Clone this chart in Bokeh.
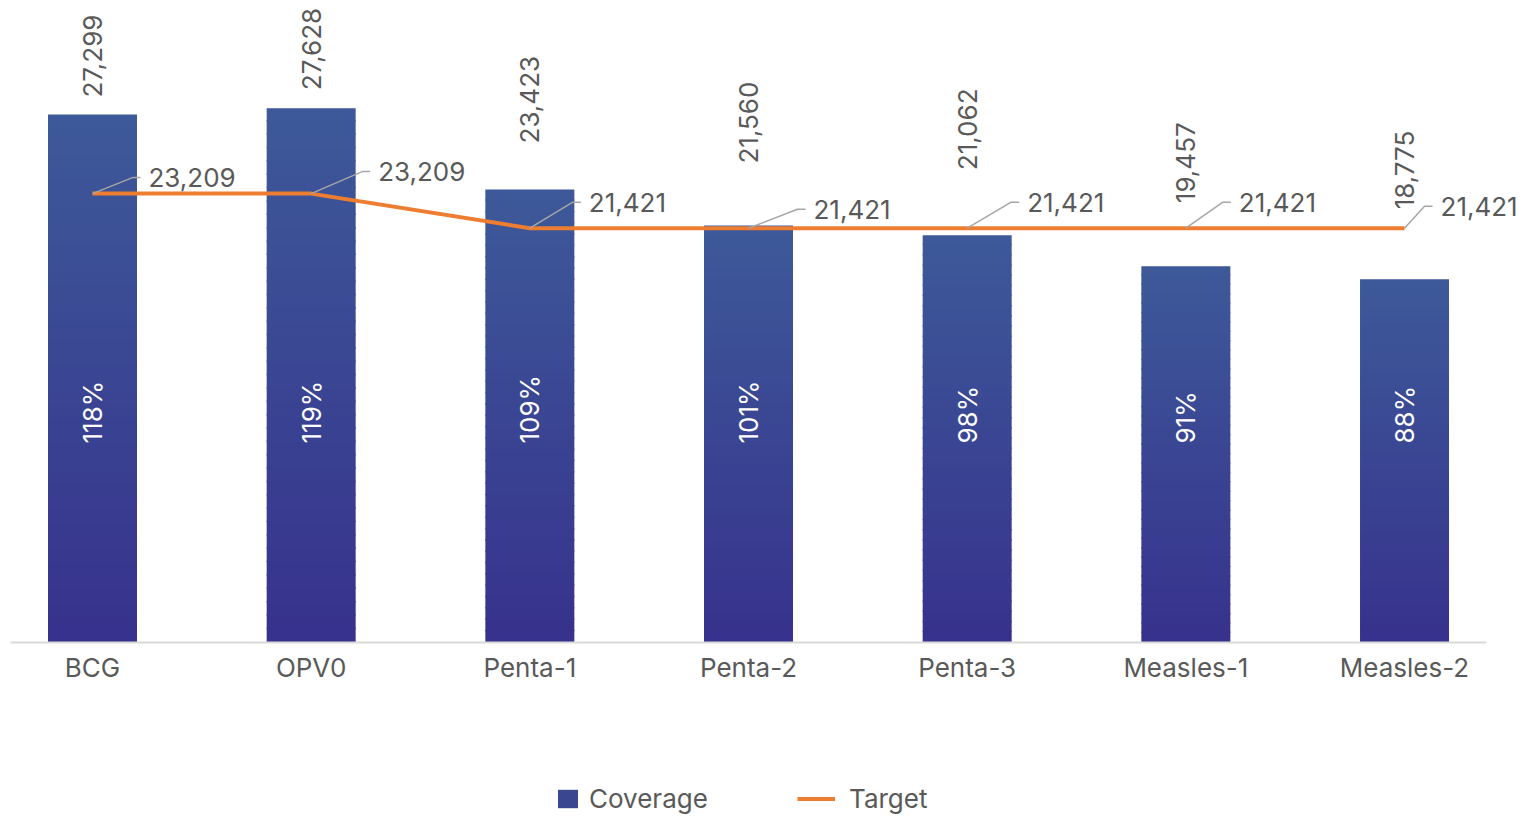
import numpy as np
from bokeh.plotting import figure
from bokeh.models import FixedTicker, Range1d, Legend, LegendItem
from bokeh.core.properties import value
from bokeh.embed import file_html
from bokeh.resources import INLINE

# ---- data ----
categories = ["BCG", "OPV0", "Penta-1", "Penta-2", "Penta-3", "Measles-1", "Measles-2"]
coverage = [27299, 27628, 23423, 21560, 21062, 19457, 18775]
target = [23209, 23209, 21421, 21421, 21421, 21421, 21421]
coverage_pct = ["118%", "119%", "109%", "101%", "98%", "91%", "88%"]

# ---- layout (pixels) ----
FONT = "Inter"
TXT = "#595959"
STEP = 218.67            # px per category
YSCALE = 0.019341        # px per unit
FRAME_W, FRAME_H = 1520, 816
BASE_PX = 642            # baseline position from top
X0 = -92 / STEP
X1 = X0 + FRAME_W / STEP
XPP = 1 / STEP
YPP = 1 / YSCALE
Y0 = -(FRAME_H - BASE_PX) * YPP
Y1 = BASE_PX * YPP
top_label_gap_px = [17, 18, 46, 62, 65, 63, 70]
tgt_dx_px = [56, 67, 59, 65, 60, 53, 36]
tgt_dy_px = [16, 22, 26, 19, 26, 26, 22]  # upward
pct_y_px = 199

x = np.arange(len(categories))

p = figure(frame_width=FRAME_W, frame_height=FRAME_H, output_backend="svg",
           toolbar_location=None, x_range=Range1d(X0, X1), y_range=Range1d(Y0, Y1),
           min_border=0)
p.outline_line_color = None
p.background_fill_color = "white"
p.border_fill_color = "white"
p.grid.visible = False
p.yaxis.visible = False

# gradient bars: slices of each bar
N = 40
top_c = np.array([0x3D, 0x5A, 0x99])
bot_c = np.array([0x37, 0x31, 0x8D])
xs, b0, b1, cols = [], [], [], []
for i, v in enumerate(coverage):
    for k in range(N):
        f0, f1 = k / N, (k + 1) / N
        c = bot_c + (top_c - bot_c) * ((f0 + f1) / 2)
        xs.append(x[i]); b0.append(v * f0); b1.append(min(v, v * f1 + 1.5 * YPP))
        cols.append("#%02x%02x%02x" % tuple(int(round(t)) for t in c))
p.vbar(x=xs, bottom=b0, top=b1, width=0.407, fill_color=cols, line_color=None)

# baseline
p.segment(x0=[-0.375], y0=[0], x1=[len(categories) - 1 + 0.375], y1=[0],
          line_color="#d9d9d9", line_width=2)

# target line
line_r = p.line(x=x, y=target, line_color="#ED7D31", line_width=4)

# leader lines + target labels
lx, ly, tx, ty = [], [], [], []
for i in range(len(categories)):
    txx = x[i] + tgt_dx_px[i] * XPP
    tyy = target[i] + tgt_dy_px[i] * YPP
    lx.append([x[i], txx - 16 * XPP, txx - 8 * XPP])
    ly.append([target[i], tyy, tyy])
    tx.append(txx); ty.append(tyy)
p.multi_line(xs=lx, ys=ly, line_color="#a6a6a6", line_width=1.5)
p.text(x=tx, y=ty, text=[f"{t:,}" for t in target], text_font=value(FONT), text_font_size="26px",
       text_color=TXT, text_align="left", text_baseline="middle")

# value labels above bars (rotated)
vy = [c + g * YPP for c, g in zip(coverage, top_label_gap_px)]
p.text(x=x, y=vy, text=[f"{c:,}" for c in coverage], angle=np.pi / 2, text_font=value(FONT),
       text_font_size="26px", text_color=TXT, text_align="left", text_baseline="middle")

# percent labels inside bars
p.text(x=x, y=[pct_y_px * YPP] * len(x), text=coverage_pct, angle=np.pi / 2, text_font=value(FONT),
       text_font_size="26px", text_color="white", text_align="left", text_baseline="middle")

# x axis at the baseline
p.xaxis.fixed_location = 0
p.xaxis.ticker = FixedTicker(ticks=list(x))
p.xaxis.major_label_overrides = {int(i): c for i, c in zip(x, categories)}
p.xaxis.axis_line_color = None
p.xaxis.major_tick_line_color = None
p.xaxis.minor_tick_line_color = None
p.xaxis.major_label_text_font = FONT
p.xaxis.major_label_text_font_size = "26px"
p.xaxis.major_label_text_color = TXT
p.xaxis.major_label_standoff = 3

# legends (zero-height swatch renderer for the bar legend entry)
swatch = p.vbar(x=[0], bottom=[0], top=[0], width=0.4, fill_color="#3a468f", line_color=None)
common = dict(padding=0, margin=0, border_line_color=None, background_fill_alpha=0,
              label_text_font=FONT, label_text_font_size="26px", label_text_color=TXT)
leg1 = Legend(items=[LegendItem(label="Coverage", renderers=[swatch])], location=(555, 2),
              glyph_width=25, glyph_height=23, label_standoff=9, **common)
leg2 = Legend(items=[LegendItem(label="Target", renderers=[line_r])], location=(797, 2),
              glyph_width=38, glyph_height=23, label_standoff=14, **common)
p.add_layout(leg1)
p.add_layout(leg2)

open("out.html", "w").write(file_html(p, INLINE))
